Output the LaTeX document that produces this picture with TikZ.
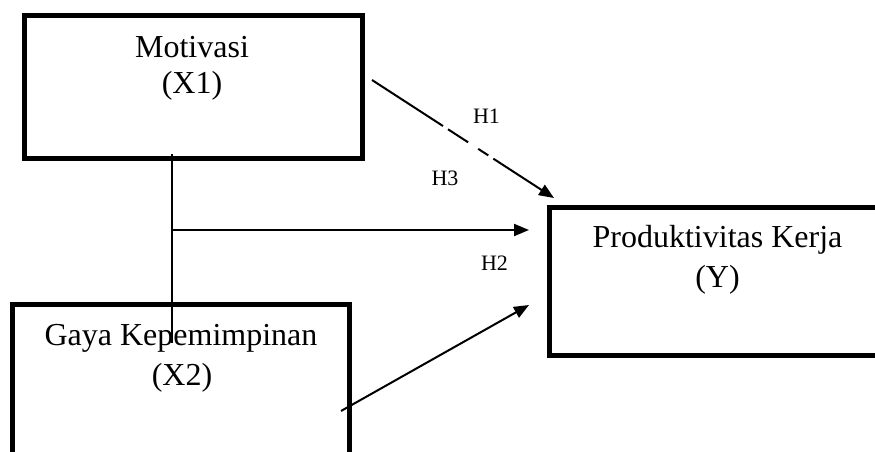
\documentclass[tikz,border=0pt]{standalone}
\usepackage{fontspec}
\setmainfont{Liberation Serif}
\usetikzlibrary{arrows.meta}
\begin{document}
\begin{tikzpicture}[x=1pt,y=-1pt,
  varbox/.style={draw,line width=5pt,rectangle,inner sep=0pt},
  boxtext/.style={anchor=base,inner sep=0pt,font=\fontsize{32}{36}\selectfont},
  hlabel/.style={anchor=base,inner sep=0pt,font=\fontsize{22}{26}\selectfont},
  conn/.style={line width=2pt,-{Triangle[length=15pt,width=12pt]}},
  plainconn/.style={line width=2pt}]
\useasboundingbox (0,0) rectangle (875,452);
\clip (0,0) rectangle (875,452);
% boxes
\node[varbox,minimum width=338pt,minimum height=143pt] (x1) at (193.5,87) {};
\node[varbox,minimum width=337.5pt,minimum height=165.5pt] (x2) at (180.75,387.25) {};
\node[varbox,minimum width=341pt,minimum height=148pt] (y) at (719.5,281.5) {};
% texts
\node[boxtext] (t1a) at (192,57) {Motivasi};
\node[boxtext] (t1b) at (192,93) {(X1)};
\node[boxtext] (t2a) at (181,345) {Gaya Kepemimpinan};
\node[boxtext] (t2b) at (182,385) {(X2)};
\node[boxtext] (t3a) at (717.5,247) {Produktivitas Kerja};
\node[boxtext] (t3b) at (717.5,287) {(Y)};
% labels
\node[hlabel] (h1) at (486.5,123) {H1};
\node[hlabel] (h3) at (445,185) {H3};
\node[hlabel] (h2) at (494.5,270) {H2};
% connector points
\coordinate (vtop) at (172,154);
\coordinate (vbot) at (172,343);
\coordinate (vmid) at (172,230);
\coordinate (hend) at (529,230);
\coordinate (d1s) at (372,80);
\coordinate (d1e) at (554,198);
\coordinate (d2s) at (341,411);
\coordinate (d2e) at (529,305);
% connectors
\draw[plainconn] (vtop) -- (vbot);
\draw[conn] (vmid) -- (hend);
\draw[conn,dash pattern=on 84.6pt off 6pt on 24pt off 12pt on 12pt off 6pt on 300pt] (d1s) -- (d1e);
\draw[conn] (d2s) -- (d2e);
\end{tikzpicture}
\end{document}
